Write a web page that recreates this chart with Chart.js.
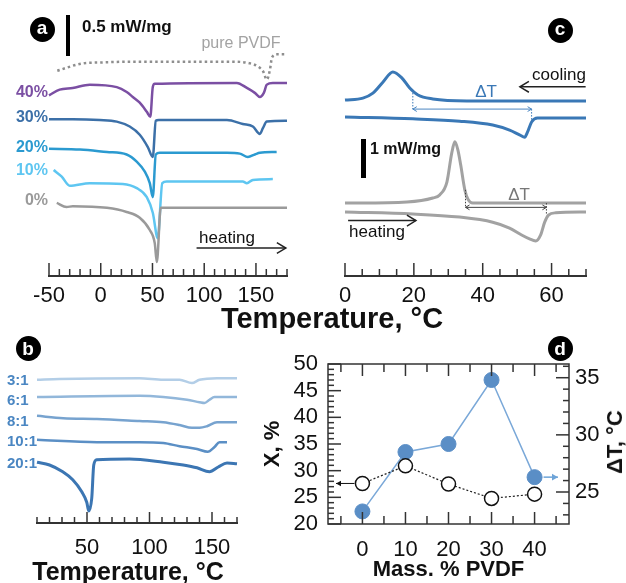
<!DOCTYPE html>
<html>
<head>
<meta charset="utf-8">
<title>DSC of PVDF blends</title>
<script src="https://cdn.jsdelivr.net/npm/chart.js@4.4.1/dist/chart.umd.min.js"></script>
<style>
  html, body { margin: 0; padding: 0; background: #fff; }
  #fig { position: relative; width: 626px; height: 583px; overflow: hidden; }
  #fig canvas { position: absolute; }
  .lbl { position: absolute; white-space: nowrap; line-height: 1; font-family: "Liberation Sans", Arial, sans-serif; }
  .badge { position: absolute; width: 25px; height: 25px; border-radius: 50%; background: #000; color: #fff;
           font: bold 19px "Liberation Sans", Arial, sans-serif; text-align: center; }
  .bar { position: absolute; background: #000; }
</style>
</head>
<body>
<div id="fig">
  <canvas id="chartA" width="313" height="330" style="left:0;top:0"></canvas>
  <canvas id="chartC" width="313" height="330" style="left:313px;top:0"></canvas>
  <canvas id="chartB" width="313" height="253" style="left:0;top:330px"></canvas>
  <canvas id="chartD" width="366" height="253" style="left:260px;top:330px"></canvas>
</div>
<script>
const FONT = '"Liberation Sans", Arial, sans-serif';
Chart.defaults.font.family = FONT;
Chart.defaults.color = '#111';

// ---- a: heating traces, temperature (°C) vs heat flow offset (mW/mg) ----
const aTickLabels = [-50, 0, 50, 100, 150];
const pvdfT = [-42, -17, -1, 31, 128, 144, 152, 157, 160.5, 163.5, 165.5, 170, 180];
const pvdfQ = [2.50, 2.59, 2.60, 2.61, 2.61, 2.59, 2.55, 2.49, 2.39, 2.51, 2.66, 2.70, 2.70];
const a40T = [-50, -39.7, -27.1, -10.6, 15.5, 25.1, 31, 37.7, 44.5, 47.9, 50.3, 52.2, 131.5, 141.2, 148.9, 153.8, 157.6, 160.5, 166.3, 180];
const a40Q = [2.20, 2.27, 2.29, 2.33, 2.30, 2.24, 2.18, 2.11, 2.00, 1.94, 2.30, 2.34, 2.35, 2.29, 2.23, 2.18, 2.23, 2.33, 2.35, 2.35];
const a30T = [-50, -27, -1, 15.5, 28, 37.7, 45.5, 50.3, 53.2, 56, 122, 137.3, 147, 153.8, 156.7, 160.5, 180];
const a30Q = [1.91, 1.91, 1.90, 1.88, 1.82, 1.72, 1.57, 1.45, 1.89, 1.90, 1.90, 1.85, 1.82, 1.73, 1.80, 1.88, 1.89];
const a20T = [-50, -20, 6, 25, 35, 42.6, 47.4, 50.3, 53.2, 57, 122, 134.4, 142.2, 149, 153.8, 170];
const a20Q = [1.55, 1.54, 1.51, 1.48, 1.39, 1.27, 1.13, 0.96, 1.48, 1.50, 1.50, 1.49, 1.45, 1.48, 1.50, 1.51];
const a10T = [-45.5, -37.7, -30, -10.6, 21.3, 34.8, 44.5, 50.3, 55.1, 59.5, 63.8, 137.3, 141.2, 147, 166.3];
const a10Q = [1.29, 1.21, 1.10, 1.13, 1.12, 1.07, 0.96, 0.77, 0.46, 1.13, 1.15, 1.15, 1.13, 1.17, 1.18];
const a0T = [-42.5, -33, -27, 6, 25, 37.7, 47.4, 52.2, 54.2, 58, 180];
const a0Q = [0.89, 0.84, 0.85, 0.83, 0.78, 0.71, 0.56, 0.40, 0.17, 0.83, 0.83];
const aNames = ['40%', '30%', '20%', '10%', '0%'];
const aColors = ['#7b4fa3', '#3c70a8', '#2b9ad0', '#5ec6f1', '#9a9a9a'];

// ---- c: cooling / heating of one blend (blue) and reference (grey) ----
const cTickLabels = [0, 20, 40, 60];
const blueCoolT = [0, 5.2, 8.1, 11, 13.9, 16.5, 18.8, 21.2, 25.5, 35.4, 70];
const blueCoolQ = [4.51, 4.56, 4.69, 4.97, 5.23, 5.08, 4.82, 4.64, 4.54, 4.49, 4.49];
const blueHeatT = [0, 19.7, 33.3, 42.9, 47.8, 50.7, 52.2, 53, 54.2, 55.9, 70];
const blueHeatQ = [4.08, 4.03, 3.97, 3.87, 3.74, 3.62, 3.56, 3.69, 3.95, 4.05, 4.05];
const greyCoolT = [0, 18, 25.5, 27.5, 29.6, 31, 31.9, 32.8, 33.6, 34.8, 35.7, 37.1, 70];
const greyCoolQ = [1.87, 1.90, 2.00, 2.08, 2.41, 3.15, 3.44, 3.23, 2.85, 2.21, 1.97, 1.87, 1.87];
const greyHeatT = [0, 19.7, 33.3, 42.9, 47.8, 51.3, 53.6, 55.4, 56.8, 58, 59.1, 61.2, 70];
const greyHeatQ = [1.64, 1.59, 1.51, 1.38, 1.23, 1.05, 0.95, 0.90, 1.05, 1.38, 1.56, 1.62, 1.64];
const blueDeltaT = [19.7, 54.2];
const greyDeltaT = [35.0, 58.5];

// ---- b: heating traces of different ratios ----
const bTickLabels = [50, 100, 150];
const b3T = [10, 28, 92, 111, 124, 134, 140, 154, 170];
const b3Q = [1.79, 1.80, 1.81, 1.79, 1.79, 1.75, 1.79, 1.81, 1.81];
const b6T = [10, 92, 111, 130, 140, 144, 148, 152, 170];
const b6Q = [1.575, 1.59, 1.575, 1.54, 1.51, 1.50, 1.54, 1.575, 1.575];
const b8T = [10, 31, 58, 92, 111, 124, 134, 140, 146, 154, 170];
const b8Q = [1.34, 1.31, 1.30, 1.275, 1.26, 1.225, 1.19, 1.19, 1.21, 1.26, 1.26];
const b10T = [10, 58, 92, 111, 124, 138, 146.6, 152, 156, 162];
const b10Q = [1.04, 1.01, 1.01, 1.00, 0.96, 0.925, 0.89, 0.95, 1.01, 1.01];
const b20T = [10, 20, 30.6, 38.6, 45.8, 49.8, 51.4, 53.8, 55.4, 57.8, 84, 111, 127, 138, 148, 155, 162, 170];
const b20Q = [0.76, 0.725, 0.64, 0.54, 0.39, 0.26, 0.15, 0.31, 0.725, 0.79, 0.80, 0.76, 0.725, 0.69, 0.64, 0.70, 0.75, 0.74];
const bNames = ['3:1', '6:1', '8:1', '10:1', '20:1'];
const bColors = ['#b3cee7', '#92b7da', '#77a3cf', '#5b8fc5', '#3c76b3'];

// ---- d: crystallinity and ΔT vs PVDF content ----
const dMass = [0, 10, 20, 30, 40];
const dCryst = [27.6, 30.9, 27.5, 24.8, 25.6];
const dDeltaT = [23.3, 28.5, 29.2, 34.8, 26.3];
const dXTicks = [0, 10, 20, 30, 40];
const dLeftTicks = [20, 25, 30, 35, 40, 45, 50];
const dRightTicks = [25, 30, 35];

function range(a, b, step) {
  const out = [];
  for (let v = a; v <= b + 1e-9; v += step) out.push(Math.round(v * 1000) / 1000);
  return out;
}
function pts(xs, ys) { return xs.map((x, i) => ({ x, y: ys[i] })); }
function trace(xs, ys, color, width, dash) {
  return { data: pts(xs, ys), borderColor: color, borderWidth: width, borderDash: dash || [],
           pointRadius: 0, cubicInterpolationMode: 'monotone', fill: false, clip: false };
}

function innerTicks(specs) {
  return {
    id: 'innerTicks',
    afterDatasetsDraw(chart) {
      const ctx = chart.ctx, a = chart.chartArea;
      ctx.save();
      ctx.strokeStyle = '#333';
      ctx.lineWidth = 1.5;
      specs.forEach(s => {
        const sc = chart.scales[s.scale];
        s.values.forEach(v => {
          const len = s.majors.includes(v) ? s.major : s.minor;
          const p = sc.getPixelForValue(v);
          ctx.beginPath();
          if (s.side === 'bottom') { ctx.moveTo(p, a.bottom); ctx.lineTo(p, a.bottom - len); }
          if (s.side === 'top') { ctx.moveTo(p, a.top); ctx.lineTo(p, a.top + len); }
          if (s.side === 'left') { ctx.moveTo(a.left, p); ctx.lineTo(a.left + len, p); }
          if (s.side === 'right') { ctx.moveTo(a.right, p); ctx.lineTo(a.right - len, p); }
          ctx.stroke();
        });
      });
      ctx.restore();
    }
  };
}

function arrowHead(ctx, x, y, dir, size, open) {
  ctx.beginPath();
  if (open) {
    ctx.moveTo(x - dir * size, y - size * 0.6);
    ctx.lineTo(x, y);
    ctx.lineTo(x - dir * size, y + size * 0.6);
    ctx.stroke();
  } else {
    ctx.moveTo(x, y);
    ctx.lineTo(x - dir * size, y - size * 0.55);
    ctx.lineTo(x - dir * size, y + size * 0.55);
    ctx.closePath();
    ctx.fill();
  }
}
function hArrow(ctx, x1, x2, y, color, lw, size, open, both) {
  ctx.save();
  ctx.strokeStyle = color; ctx.fillStyle = color; ctx.lineWidth = lw;
  ctx.beginPath(); ctx.moveTo(x1, y); ctx.lineTo(x2, y); ctx.stroke();
  const dir = Math.sign(x2 - x1);
  arrowHead(ctx, x2, y, dir, size, open);
  if (both) arrowHead(ctx, x1, y, -dir, size, open);
  ctx.restore();
}

function traceOptions(xMin, xMax, yMax, tickLabels, pad, axisH, labelPad) {
  return {
    responsive: false, animation: false, events: [],
    layout: { padding: pad },
    plugins: { legend: { display: false }, tooltip: { enabled: false } },
    scales: {
      x: { type: 'linear', min: xMin, max: xMax,
           grid: { display: false, drawTicks: false },
           border: { display: true, color: '#333', width: 2 },
           ticks: { font: { size: 22 }, color: '#111', padding: labelPad, autoSkip: false, maxRotation: 0 },
           afterBuildTicks: s => { s.ticks = tickLabels.map(v => ({ value: v })); },
           afterFit: s => { s.height = axisH; } },
      y: { display: false, min: 0, max: yMax }
    }
  };
}

// ---- chart a ----
new Chart(document.getElementById('chartA'), {
  type: 'line',
  data: { datasets: [
    trace(pvdfT, pvdfQ, '#8e8e8e', 2.5, [2.5, 3]),
    trace(a40T, a40Q, aColors[0], 2.5),
    trace(a30T, a30Q, aColors[1], 2.5),
    trace(a20T, a20Q, aColors[2], 2.5),
    trace(a0T, a0Q, aColors[4], 2.5),
    trace(a10T, a10Q, aColors[3], 2.5)
  ] },
  options: traceOptions(-50, 180, 3.3, aTickLabels, { left: 49, right: 26, top: 5, bottom: 0 }, 54, 7),
  plugins: [
    innerTicks([{ scale: 'x', side: 'bottom', values: range(-50, 180, 10), majors: aTickLabels, minor: 7, major: 13 }]),
    { id: 'aNotes', afterDatasetsDraw(chart) {
        const { x, y } = chart.scales;
        hArrow(chart.ctx, x.getPixelForValue(92.6), x.getPixelForValue(178.9), y.getPixelForValue(0.34), '#222', 1.5, 9, true, false);
    } }
  ]
});

// ---- chart c ----
new Chart(document.getElementById('chartC'), {
  type: 'line',
  data: { datasets: [
    trace(blueCoolT, blueCoolQ, '#3a78b6', 3),
    trace(blueHeatT, blueHeatQ, '#3a78b6', 3),
    trace(greyCoolT, greyCoolQ, '#a2a2a2', 3),
    trace(greyHeatT, greyHeatQ, '#a2a2a2', 3)
  ] },
  options: traceOptions(0, 70, 7, cTickLabels, { left: 32, right: 40, top: 3, bottom: 0 }, 54, 7),
  plugins: [
    innerTicks([{ scale: 'x', side: 'bottom', values: range(0, 70, 5), majors: cTickLabels, minor: 7, major: 13 }]),
    { id: 'cNotes', afterDatasetsDraw(chart) {
        const ctx = chart.ctx, { x, y } = chart.scales;
        const drop = (t, q1, q2, color) => {
          ctx.save(); ctx.strokeStyle = color; ctx.lineWidth = 1; ctx.setLineDash([1.5, 1.5]);
          ctx.beginPath(); ctx.moveTo(x.getPixelForValue(t), y.getPixelForValue(q1));
          ctx.lineTo(x.getPixelForValue(t), y.getPixelForValue(q2)); ctx.stroke(); ctx.restore();
        };
        drop(blueDeltaT[0], 4.77, 4.28, '#3a78b6');
        drop(blueDeltaT[1], 4.28, 3.93, '#3a78b6');
        hArrow(ctx, x.getPixelForValue(blueDeltaT[0]), x.getPixelForValue(blueDeltaT[1]), y.getPixelForValue(4.28), '#4a86c2', 1, 4, true, true);
        drop(greyDeltaT[0], 2.21, 1.76, '#444');
        drop(greyDeltaT[1], 1.87, 1.60, '#444');
        hArrow(ctx, x.getPixelForValue(greyDeltaT[0]), x.getPixelForValue(greyDeltaT[1]), y.getPixelForValue(1.76), '#444', 1, 4, true, true);
        hArrow(ctx, x.getPixelForValue(69.9), x.getPixelForValue(50.8), y.getPixelForValue(4.85), '#222', 1.5, 9, true, false);
        hArrow(ctx, x.getPixelForValue(0.9), x.getPixelForValue(20.6), y.getPixelForValue(1.42), '#222', 1.5, 9, true, false);
    } }
  ]
});

// ---- chart b ----
new Chart(document.getElementById('chartB'), {
  type: 'line',
  data: { datasets: [
    trace(b3T, b3Q, bColors[0], 2.5),
    trace(b6T, b6Q, bColors[1], 2.5),
    trace(b8T, b8Q, bColors[2], 2.5),
    trace(b10T, b10Q, bColors[3], 2.5),
    trace(b20T, b20Q, bColors[4], 3)
  ] },
  options: traceOptions(10, 170, 2.0, bTickLabels, { left: 37, right: 76, top: 33, bottom: 0 }, 60, 12),
  plugins: [
    innerTicks([{ scale: 'x', side: 'bottom', values: range(10, 170, 10), majors: bTickLabels, minor: 6, major: 11 }])
  ]
});

// ---- chart d ----
new Chart(document.getElementById('chartD'), {
  type: 'line',
  data: { datasets: [
    { data: pts(dMass, dCryst), yAxisID: 'y', borderColor: '#222', borderWidth: 1.2, borderDash: [2, 2],
      pointRadius: 7, pointBackgroundColor: '#fff', pointBorderColor: '#111', pointBorderWidth: 1.5 },
    { data: pts(dMass, dDeltaT), yAxisID: 'y2', borderColor: '#7aa8d8', borderWidth: 1.5,
      pointRadius: 7.5, pointBackgroundColor: '#5a8ec6', pointBorderColor: '#5a8ec6', pointBorderWidth: 1 }
  ] },
  options: {
    responsive: false, animation: false, events: [],
    layout: { padding: { left: 0, right: 0, top: 34, bottom: 0 } },
    plugins: { legend: { display: false }, tooltip: { enabled: false } },
    scales: {
      x: { type: 'linear', min: -8, max: 48, position: 'bottom',
           grid: { display: false, drawTicks: false }, border: { display: false },
           ticks: { font: { size: 22 }, color: '#111', padding: 13, autoSkip: false, maxRotation: 0 },
           afterBuildTicks: s => { s.ticks = dXTicks.map(v => ({ value: v })); },
           afterFit: s => { s.height = 59; },
           title: { display: true, text: 'Mass. % PVDF', font: { size: 22, weight: 'bold' }, color: '#111', padding: 0 } },
      y: { type: 'linear', min: 20, max: 50, position: 'left',
           grid: { display: false, drawTicks: false }, border: { display: false },
           ticks: { font: { size: 22 }, color: '#111', padding: 10, autoSkip: false },
           afterBuildTicks: s => { s.ticks = dLeftTicks.map(v => ({ value: v })); },
           afterFit: s => { s.width = 68; },
           title: { display: true, text: 'X, %', font: { size: 22, weight: 'bold' }, color: '#111', padding: 0 } },
      y2: { type: 'linear', min: 22.2, max: 36.2, position: 'right',
           grid: { display: false, drawTicks: false }, border: { display: false },
           ticks: { font: { size: 22 }, color: '#111', padding: 6, autoSkip: false },
           afterBuildTicks: s => { s.ticks = dRightTicks.map(v => ({ value: v })); },
           afterFit: s => { s.width = 57; } }
    }
  },
  plugins: [
    { id: 'dFrame', beforeDatasetsDraw(chart) {
        const ctx = chart.ctx, a = chart.chartArea;
        ctx.save(); ctx.strokeStyle = '#333'; ctx.lineWidth = 1.5;
        ctx.strokeRect(a.left, a.top, a.right - a.left, a.bottom - a.top);
        ctx.restore();
    } },
    innerTicks([
      { scale: 'y', side: 'left', values: range(20, 50, 1), majors: dLeftTicks, minor: 6, major: 13 },
      { scale: 'y2', side: 'right', values: range(23, 36, 1), majors: dRightTicks, minor: 6, major: 13 },
      { scale: 'x', side: 'top', values: range(-5, 45, 5), majors: dXTicks, minor: 8, major: 12 },
      { scale: 'x', side: 'bottom', values: range(-5, 45, 5), majors: dXTicks, minor: 8, major: 12 }
    ]),
    { id: 'dNotes', afterDatasetsDraw(chart) {
        const ctx = chart.ctx, a = chart.chartArea, { x, y, y2 } = chart.scales;
        hArrow(ctx, x.getPixelForValue(dMass[0]) - 8, a.left + 8, y.getPixelForValue(dCryst[0]), '#111', 1, 5, false, false);
        hArrow(ctx, x.getPixelForValue(dMass[4]) + 9, a.right - 11, y2.getPixelForValue(dDeltaT[4]), '#6ea4d8', 1.5, 6, false, false);
    } }
  ]
});

// ---- text, badges and scale bars ----
const fig = document.getElementById('fig');
function addText(txt, x, y, o) {
  const d = document.createElement('div');
  d.className = 'lbl';
  d.textContent = txt;
  d.style.fontSize = (o.size || 16) + 'px';
  d.style.fontWeight = o.weight || 'normal';
  d.style.color = o.color || '#111';
  d.style.left = x + 'px';
  d.style.top = y + 'px';
  const tx = o.align === 'left' ? '0' : o.align === 'right' ? '-100%' : '-50%';
  d.style.transform = 'translate(' + tx + ',-50%)' + (o.rotate ? ' rotate(' + o.rotate + 'deg)' : '');
  fig.appendChild(d);
}
function addBadge(ch, x, y, lh) {
  const d = document.createElement('div');
  d.className = 'badge';
  d.textContent = ch;
  d.style.left = (x - 12.5) + 'px';
  d.style.top = (y - 12.5) + 'px';
  d.style.lineHeight = lh + 'px';
  fig.appendChild(d);
}
function addBar(x, y, w, h) {
  const d = document.createElement('div');
  d.className = 'bar';
  Object.assign(d.style, { left: x + 'px', top: y + 'px', width: w + 'px', height: h + 'px' });
  fig.appendChild(d);
}

addBadge('a', 42, 29, 22);
addBadge('c', 560, 30, 22);
addBadge('b', 28, 348, 25);
addBadge('d', 560, 348, 25);

addBar(65.5, 15, 4.5, 41);
addText('0.5 mW/mg', 82, 26, { size: 17, weight: 'bold', align: 'left' });
addText('pure PVDF', 241, 43, { size: 16, color: '#a3a3a3' });
[92, 117, 147, 170, 200].forEach((yy, i) => addText(aNames[i], 48, yy, { size: 16, weight: 'bold', color: aColors[i], align: 'right' }));
addText('heating', 227, 237, { size: 17 });
addText('Temperature, °C', 332, 318, { size: 29, weight: 'bold' });

addText('cooling', 559, 74, { size: 17 });
addText('ΔT', 486, 91, { size: 17, color: '#3a78b6' });
addBar(361, 139, 4.5, 39);
addText('1 mW/mg', 370, 149, { size: 16, weight: 'bold', align: 'left' });
addText('ΔT', 519, 194, { size: 17, color: '#777' });
addText('heating', 377, 231, { size: 17 });

[379, 399, 420, 440, 462].forEach((yy, i) => addText(bNames[i], 7, yy, { size: 15, weight: 'bold', color: '#4a86c2', align: 'left' }));
addText('Temperature, °C', 128, 571, { size: 25, weight: 'bold' });

addText('ΔT, °C', 615, 442, { size: 22, weight: 'bold', rotate: -90 });
</script>
</body>
</html>
